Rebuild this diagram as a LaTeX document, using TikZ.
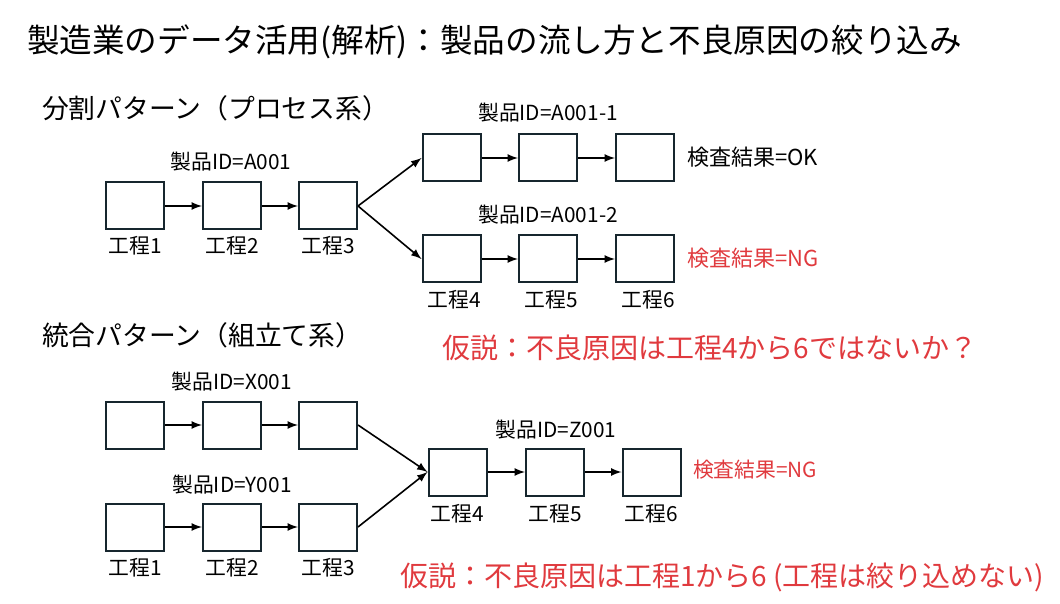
\documentclass[tikz,border=0pt]{standalone}
\usepackage{fontspec}
\setmainfont{Noto Sans CJK JP}
\definecolor{boxline}{RGB}{23,38,46}
\definecolor{ngred}{RGB}{224,58,62}

\begin{document}
\begin{tikzpicture}[x=0.5pt,y=-0.5pt,
        proc/.style={draw=boxline, line width=1pt, minimum width=29pt, minimum height=23.5pt, inner sep=0pt},
        flow/.style={->, >=latex, line width=0.8pt},
        lbl/.style={font=\fontsize{10.4pt}{12pt}\selectfont},
        res/.style={anchor=west, font=\fontsize{11pt}{13pt}\selectfont},
        head/.style={anchor=west, font=\fontsize{13.4pt}{15pt}\selectfont},
        hyp/.style={anchor=west, text=ngred, font=\fontsize{14pt}{16pt}\selectfont}]
        \useasboundingbox (0,0) rectangle (1060,604);
        \node[anchor=west, font=\fontsize{16.3pt}{18pt}\selectfont] (title) at (20,42) {製造業のデータ活用(解析)：製品の流し方と不良原因の絞り込み};

        % split pattern
        \node[head] (split) at (35,108) {分割パターン（プロセス系）};
        \foreach \i/\x in {1/135,2/232,3/328} {
            \node[proc] (a\i) at (\x,206) {};
            \node[lbl] (la\i) at (\x,246) {工程\i};
        }
        \foreach \i/\x/\n in {1/451.5/4,2/548/5,3/645/6} {
            \node[proc] (b\i) at (\x,158) {};
            \node[proc] (c\i) at (\x,259) {};
            \node[lbl] (lc\i) at (\x+3,300) {工程\n};
        }
        \draw[flow] (a1) -- (a2);
        \draw[flow] (a2) -- (a3);
        \draw[flow] (a3.east) -- (b1.west);
        \draw[flow] (a3.east) -- (c1.west);
        \draw[flow] (b1) -- (b2);
        \draw[flow] (b2) -- (b3);
        \draw[flow] (c1) -- (c2);
        \draw[flow] (c2) -- (c3);
        \node[lbl] (ida) at (231,162) {製品ID=A001};
        \node[lbl] (idb) at (548,113) {製品ID=A001-1};
        \node[lbl] (idc) at (548,215) {製品ID=A001-2};
        \node[res] (okb) at (680,157) {検査結果=OK};
        \node[res, text=ngred] (ngc) at (680,258) {検査結果=NG};
        \node[hyp] (hyp1) at (435,348) {仮説：不良原因は工程4から6ではないか？};

        % merge pattern
        \node[head] (merge) at (35,335) {統合パターン（組立て系）};
        \foreach \i/\x in {1/135,2/232,3/328} {
            \node[proc] (x\i) at (\x,425) {};
            \node[proc] (y\i) at (\x,527) {};
            \node[lbl] (ly\i) at (\x,568) {工程\i};
        }
        \foreach \i/\x/\n in {1/457.5/4,2/555/5,3/651.5/6} {
            \node[proc] (z\i) at (\x,472) {};
            \node[lbl] (lz\i) at (\x,514) {工程\n};
        }
        \draw[flow] (x1) -- (x2);
        \draw[flow] (x2) -- (x3);
        \draw[flow] (y1) -- (y2);
        \draw[flow] (y2) -- (y3);
        \draw[flow] (x3.east) -- (z1.west);
        \draw[flow] (y3.east) -- (z1.west);
        \draw[flow] (z1) -- (z2);
        \draw[flow] (z2) -- (z3);
        \node[lbl] (idx) at (232,382) {製品ID=X001};
        \node[lbl] (idy) at (232,485) {製品ID=Y001};
        \node[lbl] (idz) at (556,430) {製品ID=Z001};
        \node[lbl, anchor=west, text=ngred] (ngz) at (686,470) {検査結果=NG};
        \node[hyp] (hyp2) at (393,577) {仮説：不良原因は工程1から6 (工程は絞り込めない)};
    \end{tikzpicture}
\end{document}
